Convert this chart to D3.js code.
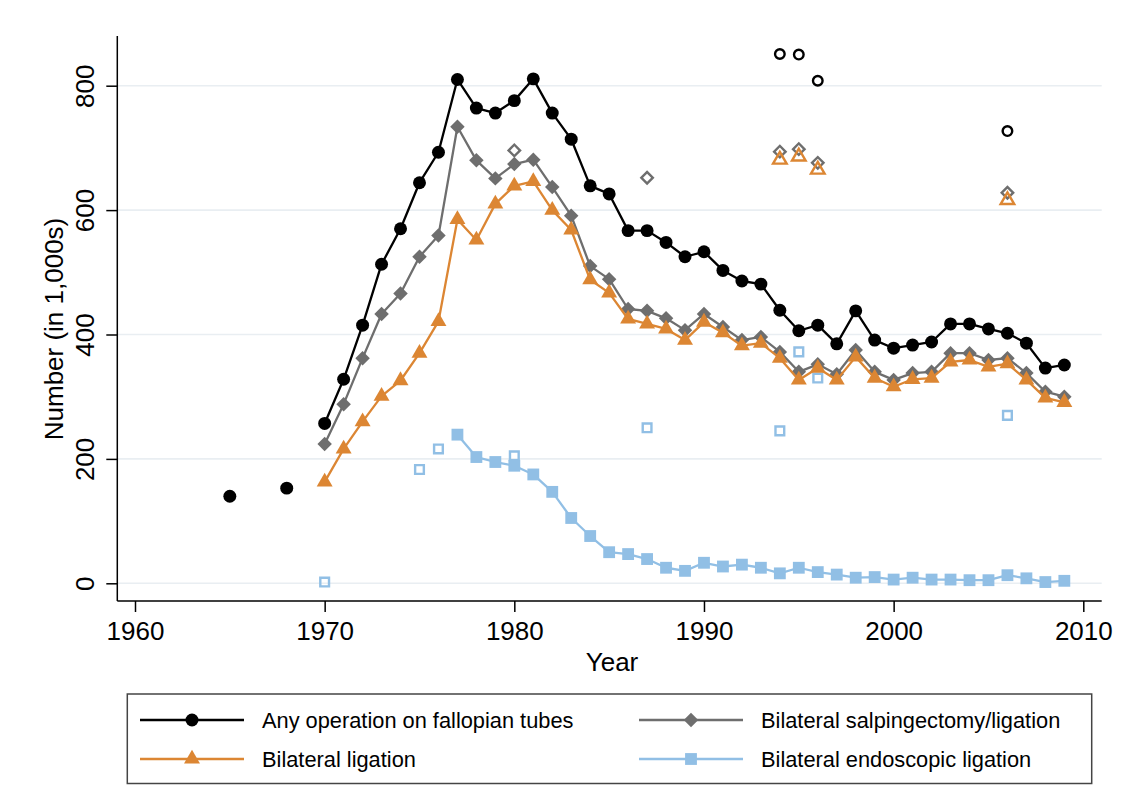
<!DOCTYPE html>
<html><head><meta charset="utf-8">
<script src="https://cdn.jsdelivr.net/npm/d3@7"></script>
<style>body{margin:0;background:#fff}svg{display:block}text{font-family:"Liberation Sans",Arial,Helvetica,sans-serif;fill:#000}</style>
</head><body><svg id="c" width="1127" height="785"></svg>
<script>
const years = d3.range(1965, 2010);
// Any operation on fallopian tubes (1965-2009, null = no data)
const anyOp = [140,null,null,153,null,
  257,328,415,513,570,644,693,810,764,756,776,811,756,714,639,626,567,567,548,525,533,503,486,481,439,406,415,385,438,391,378,383,388,417,417,409,402,386,346,351];
const salping = [null,null,null,null,null,
  224,288,362,433,466,525,559,734,680,651,674,681,637,591,510,489,441,438,426,407,433,412,391,396,372,340,352,336,375,340,327,338,340,370,370,359,362,338,308,300];
const ligation = [null,null,null,null,null,
  163,216,260,301,326,370,421,585,552,610,639,646,600,568,488,467,425,417,409,391,420,403,382,386,362,327,346,327,364,330,316,328,330,356,359,348,353,327,298,291];
const endo = [null,null,null,null,null,
  null,null,null,null,null,null,null,239,203,195,189,175,147,105,76,50,47,39,25,20,33,27,30,25,16,25,18,14,9,10,6,9,6,6,5,5,13,8,2,4];
// Alternative estimates (hollow markers)
const altAnyYears = [1994,1995,1996,2006];
const altAnyVals = [851,850,808,727];
const altSalpYears = [1980,1987,1994,1995,1996,2006];
const altSalpVals = [696,652,694,698,676,628];
const altLigYears = [1994,1995,1996,2006];
const altLigVals = [681,686,665,616];
const altEndoYears = [1970,1975,1976,1980,1987,1994,1995,1996,2006];
const altEndoVals = [2,183,216,205,250,245,372,330,270];
const xTicks = [1960,1970,1980,1990,2000,2010];
const yTicks = [0,200,400,600,800];
const seriesNames = ["Any operation on fallopian tubes","Bilateral salpingectomy/ligation","Bilateral ligation","Bilateral endoscopic ligation"];

const svg = d3.select("#c");
const x = d3.scaleLinear().domain([1960,2010]).range([135,1083.3]);
const y = d3.scaleLinear().domain([0,800]).range([583.3,85.7]);
const L = 117.3, R = 1101.7, T = 36, B = 601;

// gridlines
svg.append("g").selectAll("line").data(yTicks).join("line")
  .attr("x1",L).attr("x2",R).attr("y1",d=>y(d)).attr("y2",d=>y(d))
  .attr("stroke","#e9eef2").attr("stroke-width",1.6);

// axes
const gx = svg.append("g").attr("transform",`translate(0,${B})`)
  .call(d3.axisBottom(x).tickValues(xTicks).tickFormat(d3.format("d")).tickSize(11).tickPadding(10));
gx.select(".domain").remove();
gx.selectAll("line").attr("stroke","#000").attr("stroke-width",1.5);
gx.selectAll("text").attr("font-size",26).attr("font-family",'"Liberation Sans",Arial,sans-serif');
svg.append("line").attr("x1",L).attr("x2",R).attr("y1",B).attr("y2",B).attr("stroke","#000").attr("stroke-width",1.5);

const gy = svg.append("g").attr("transform",`translate(${L},0)`)
  .call(d3.axisLeft(y).tickValues(yTicks).tickSize(11));
gy.select(".domain").remove();
gy.selectAll("line").attr("stroke","#000").attr("stroke-width",1.5);
gy.selectAll("text").attr("font-size",26).attr("font-family",'"Liberation Sans",Arial,sans-serif')
  .attr("x",null).attr("dy",null).attr("text-anchor","middle")
  .attr("transform","translate(-23,0) rotate(-90)");
svg.append("line").attr("x1",L).attr("x2",L).attr("y1",T).attr("y2",B).attr("stroke","#000").attr("stroke-width",1.5);

// titles
svg.append("text").attr("x",612).attr("y",671).attr("text-anchor","middle").attr("font-size",26).text("Year");
svg.append("text").attr("transform","translate(63,329) rotate(-90)").attr("text-anchor","middle").attr("font-size",26).text("Number (in 1,000s)");

const colors = ["#000000","#6e6e6e","#dc8633","#91bfe5"];
const sym = [
  d3.symbol().type(d3.symbolCircle).size(132),
  d3.symbol().type(d3.symbolSquare).size(105),
  d3.symbol().type(d3.symbolTriangle).size(110),
  d3.symbol().type(d3.symbolSquare).size(140)
];
const rot = [0,45,0,0];
const symOpen = [
  d3.symbol().type(d3.symbolCircle).size(72),
  d3.symbol().type(d3.symbolSquare).size(66),
  d3.symbol().type(d3.symbolTriangle).size(80),
  d3.symbol().type(d3.symbolSquare).size(76)
];
const all = [anyOp, salping, ligation, endo];
const line = d3.line().defined(d=>d.v!=null).x(d=>x(d.yr)).y(d=>y(d.v));

// hollow markers first
const alts = [[altAnyYears,altAnyVals],[altSalpYears,altSalpVals],[altLigYears,altLigVals],[altEndoYears,altEndoVals]];
alts.forEach((a,i)=>{
  svg.append("g").selectAll("path").data(a[0].map((yr,j)=>({yr,v:a[1][j]}))).join("path")
    .attr("d",symOpen[i]).attr("transform",d=>`translate(${x(d.yr)},${y(d.v)}) rotate(${rot[i]})`)
    .attr("fill","none").attr("stroke",colors[i]).attr("stroke-width",2.4);
});

all.forEach((vals,i)=>{
  const data = years.map((yr,j)=>({yr,v:vals[j]}));
  svg.append("path").datum(data).attr("d",line).attr("fill","none")
    .attr("stroke",colors[i]).attr("stroke-width",2.3).attr("stroke-linejoin","round");
  svg.append("g").selectAll("path").data(data.filter(d=>d.v!=null)).join("path")
    .attr("d",sym[i]).attr("transform",d=>`translate(${x(d.yr)},${y(d.v)}) rotate(${rot[i]})`)
    .attr("fill",colors[i]);
});

// legend
svg.append("rect").attr("x",127.3).attr("y",694).attr("width",964.4).attr("height",89.5)
  .attr("fill","none").attr("stroke","#444").attr("stroke-width",1.5);
const legPos = [[140,720],[639,720],[140,759],[639,759]];
seriesNames.forEach((n,i)=>{
  const [lx,ly] = legPos[i];
  const g = svg.append("g");
  g.append("line").attr("x1",lx).attr("x2",lx+104).attr("y1",ly).attr("y2",ly).attr("stroke",colors[i]).attr("stroke-width",2.3);
  g.append("path").attr("d",sym[i]).attr("transform",`translate(${lx+52},${ly}) rotate(${rot[i]})`).attr("fill",colors[i]);
  g.append("text").attr("x",lx+122).attr("y",ly+8).attr("font-size",21.8).text(n);
});
</script></body></html>
